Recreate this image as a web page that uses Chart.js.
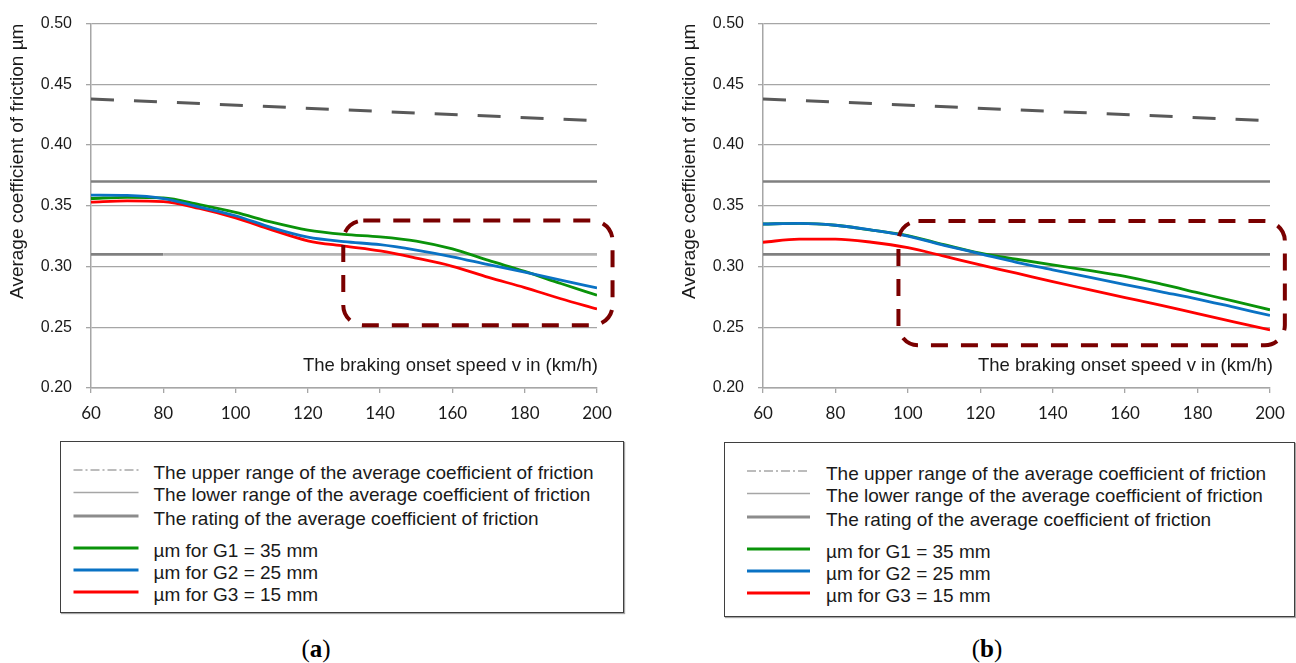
<!DOCTYPE html>
<html>
<head>
<meta charset="utf-8">
<title>Average coefficient of friction vs braking onset speed</title>
<script src="https://cdn.jsdelivr.net/npm/chart.js@4.4.1/dist/chart.umd.min.js"></script>
<style>
  html, body { margin: 0; padding: 0; background: #fff; }
  body { width: 1296px; height: 663px; position: relative; overflow: hidden;
         font-family: "Liberation Sans", Arial, sans-serif; }
  .panel { position: absolute; top: 0; }
  .legend { position: absolute; box-sizing: border-box; border: 1.5px solid #3f3f3f;
            box-shadow: 1px 1px 1px rgba(0,0,0,0.35); background: #fff; }
  .legend svg { position: absolute; left: 0; top: 0; overflow: visible; }
  .legend span { position: absolute; font-size: 19px; line-height: 22px; color: #1a1a1a;
                 white-space: nowrap; transform: translateY(-50%); }
  .caption { position: absolute; top: 635px; width: 80px; text-align: center; line-height: 28px;
             font-family: "Liberation Serif", "DejaVu Serif", serif; font-size: 25px; color: #000; }
</style>
</head>
<body>
<div class="panel" style="left:0"><canvas id="chartA" width="624" height="440"></canvas></div>
<div class="panel" style="left:672px"><canvas id="chartB" width="624" height="440"></canvas></div>
<div id="legendA" class="legend" style="left:60px;top:441px;width:564px;height:172px"></div>
<div id="legendB" class="legend" style="left:724px;top:442px;width:571px;height:175px"></div>
<div class="caption" style="left:276px">(<b>a</b>)</div>
<div class="caption" style="left:947px">(<b>b</b>)</div>

<script>
// ---- data ----------------------------------------------------------------
const speeds = [60, 70, 80, 90, 100, 110, 120, 130, 140, 150, 160, 170, 180, 190, 200];

// panel (a)
const g1A = [0.3560, 0.3570, 0.3565, 0.3510, 0.3445, 0.3365, 0.3300, 0.3265, 0.3245, 0.3210, 0.3145, 0.3050, 0.2960, 0.2860, 0.2764];
const g2A = [0.3588, 0.3585, 0.3560, 0.3490, 0.3418, 0.3320, 0.3242, 0.3205, 0.3180, 0.3135, 0.3080, 0.3015, 0.2953, 0.2889, 0.2824];
const g3A = [0.3530, 0.3540, 0.3535, 0.3478, 0.3400, 0.3302, 0.3212, 0.3168, 0.3128, 0.3069, 0.3002, 0.2910, 0.2827, 0.2735, 0.2651];

// panel (b)
const g1B = [0.3350, 0.3355, 0.3340, 0.3300, 0.3255, 0.3180, 0.3110, 0.3060, 0.3013, 0.2968, 0.2919, 0.2855, 0.2785, 0.2715, 0.2644];
const g2B = [0.3350, 0.3355, 0.3340, 0.3300, 0.3250, 0.3175, 0.3105, 0.3035, 0.2973, 0.2912, 0.2852, 0.2792, 0.2732, 0.2665, 0.2598];
const g3B = [0.3200, 0.3225, 0.3225, 0.3200, 0.3155, 0.3085, 0.3013, 0.2945, 0.2875, 0.2810, 0.2745, 0.2680, 0.2612, 0.2545, 0.2478];

// limits of the average coefficient of friction
const rangeSpeeds  = [60, 200];
const upperRange   = [0.438, 0.420];
const ratingLevel  = [0.37, 0.37];
const lowerSpeedsA = [60, 80, 200];
const lowerLevelA  = [0.31, 0.31, 0.31];
const lowerSpeedsB = [60, 200];
const lowerLevelB  = [0.31, 0.31];

// axis ticks
const xTicks = [60, 80, 100, 120, 140, 160, 180, 200];
const yTicks = [0.20, 0.25, 0.30, 0.35, 0.40, 0.45, 0.50];

// ---- styles --------------------------------------------------------------
const GREEN = '#0a930a';
const BLUE  = '#0a72c4';
const RED   = '#ff0000';
const GRID  = '#a6a6a6';

Chart.defaults.font.family = '"Liberation Sans", Arial, sans-serif';
Chart.defaults.color = '#1a1a1a';

const toPoints = (xs, ys) => xs.map((x, i) => ({ x: x, y: ys[i] }));

// axis caption written inside the plot, above the x axis
const inPlotTitle = {
  id: 'inPlotTitle',
  afterDatasetsDraw(chart, args, o) {
    const { ctx, chartArea } = chart;
    const y = chart.scales.y.getPixelForValue(chart.scales.y.min);
    ctx.save();
    ctx.font = o.font;
    ctx.fillStyle = o.color;
    ctx.textAlign = 'right';
    ctx.textBaseline = 'alphabetic';
    ctx.fillText(o.text, chartArea.right + o.dx, y - o.lift);
    ctx.restore();
  }
};

// dashed rounded frame marking the region of interest
const highlightBox = {
  id: 'highlightBox',
  afterDraw(chart, args, o) {
    const { ctx } = chart;
    const { x, y } = chart.scales;
    const l = x.getPixelForValue(o.xMin), r = x.getPixelForValue(o.xMax);
    const t = y.getPixelForValue(o.yMax), b = y.getPixelForValue(o.yMin);
    ctx.save();
    ctx.strokeStyle = o.color;
    ctx.lineWidth = o.width;
    ctx.setLineDash(o.dash);
    ctx.beginPath();
    ctx.roundRect(l, t, r - l, b - t, o.radius);
    ctx.stroke();
    ctx.restore();
  }
};

function makeChart(id, s) {
  const curve = (label, data, color, order) => ({
    label, data: toPoints(speeds, data), borderColor: color, borderWidth: 2.8,
    pointRadius: 0, cubicInterpolationMode: 'monotone', fill: false, order
  });
  return new Chart(document.getElementById(id), {
    type: 'line',
    data: {
      datasets: [
        curve('µm for G2 = 25 mm', s.g2, BLUE, 1),
        curve('µm for G1 = 35 mm', s.g1, GREEN, 2),
        curve('µm for G3 = 15 mm', s.g3, RED, 3),
        { label: 'The upper range of the average coefficient of friction',
          data: toPoints(rangeSpeeds, upperRange), borderColor: '#595959', borderWidth: 3,
          borderDash: [23, 20], pointRadius: 0, tension: 0, order: 5 },
        { label: 'The rating of the average coefficient of friction',
          data: toPoints(rangeSpeeds, ratingLevel), borderColor: '#808080', borderWidth: 2.6,
          pointRadius: 0, tension: 0, order: 6 },
        { label: 'The lower range of the average coefficient of friction',
          data: toPoints(s.lowerX, s.lowerY), borderColor: '#808080', borderWidth: 2.6,
          pointRadius: 0, tension: 0, order: 7,
          segment: { borderColor: c => s.lowerSplit && c.p0.parsed.x >= s.lowerSplit ? '#b4b4b4' : '#808080' } }
      ]
    },
    options: {
      responsive: false,
      animation: false,
      layout: { padding: { top: 16, right: s.padRight, bottom: 0, left: 0 } },
      plugins: {
        legend: { display: false },
        tooltip: { enabled: false },
        inPlotTitle: { text: 'The braking onset speed v in (km/h)', font: '18.5px "Liberation Sans", Arial, sans-serif',
                       color: '#1a1a1a', dx: s.titleDx, lift: 17 },
        highlightBox: Object.assign({ color: '#7a0000', width: 4, dash: [17, 13], radius: 20 }, s.box)
      },
      scales: {
        x: {
          type: 'linear', min: 60, max: 200,
          afterBuildTicks: sc => { sc.ticks = xTicks.map(v => ({ value: v })); },
          afterFit: sc => { sc.height = 52; },
          grid: { drawOnChartArea: false, drawTicks: true, tickLength: 5, color: GRID, lineWidth: 1.3 },
          border: { color: GRID, width: 1.5 },
          ticks: { font: { family: 'Lato, "Liberation Sans", sans-serif', size: 17 }, color: '#1a1a1a',
                   padding: 10, maxRotation: 0, autoSkip: false }
        },
        y: {
          min: 0.2, max: 0.5,
          afterBuildTicks: sc => { sc.ticks = yTicks.map(v => ({ value: v })); },
          afterFit: sc => { sc.width = 91; },
          grid: { color: GRID, lineWidth: 1.3, tickLength: 5 },
          border: { color: GRID, width: 1.5 },
          ticks: { font: { size: 16 }, color: '#1a1a1a', padding: 14, callback: v => Number(v).toFixed(2) },
          title: { display: true, text: 'Average coefficient of friction µm', align: 'end',
                   font: { size: 19 }, color: '#1a1a1a', padding: { top: 6, bottom: 0 } }
        }
      }
    },
    plugins: [inPlotTitle, highlightBox]
  });
}

makeChart('chartA', {
  g1: g1A, g2: g2A, g3: g3A,
  lowerX: lowerSpeedsA, lowerY: lowerLevelA, lowerSplit: 80,
  padRight: 27, titleDx: 1,
  box: { xMin: 129.8, xMax: 204.3, yMin: 0.2517, yMax: 0.3378 }
});
makeChart('chartB', {
  g1: g1B, g2: g2B, g3: g3B,
  lowerX: lowerSpeedsB, lowerY: lowerLevelB, lowerSplit: null,
  padRight: 26, titleDx: 3,
  box: { xMin: 97.4, xMax: 204.1, yMin: 0.2351, yMax: 0.3374 }
});

// ---- legends -------------------------------------------------------------
const legendEntries = [
  { label: 'The upper range of the average coefficient of friction', stroke: '#a6a6a6', width: 1.5, dash: '9 3 2 3' },
  { label: 'The lower range of the average coefficient of friction', stroke: '#a6a6a6', width: 1.5 },
  { label: 'The rating of the average coefficient of friction', stroke: '#8c8c8c', width: 3 },
  { label: 'µm for G1 = 35 mm', stroke: GREEN, width: 3 },
  { label: 'µm for G2 = 25 mm', stroke: BLUE, width: 3 },
  { label: 'µm for G3 = 15 mm', stroke: RED, width: 3 }
];
const legendRows = [28, 50.5, 74, 106, 128, 150];

function buildLegend(el, x0, x1, textX) {
  const NS = 'http://www.w3.org/2000/svg';
  const svg = document.createElementNS(NS, 'svg');
  svg.setAttribute('width', '1');
  svg.setAttribute('height', '1');
  legendEntries.forEach((e, i) => {
    const y = legendRows[i];
    const ln = document.createElementNS(NS, 'line');
    ln.setAttribute('x1', x0); ln.setAttribute('x2', x1);
    ln.setAttribute('y1', y); ln.setAttribute('y2', y);
    ln.setAttribute('stroke', e.stroke);
    ln.setAttribute('stroke-width', e.width);
    if (e.dash) ln.setAttribute('stroke-dasharray', e.dash);
    svg.appendChild(ln);
    const sp = document.createElement('span');
    sp.textContent = e.label;
    sp.style.left = textX + 'px';
    sp.style.top = (y + 2.5) + 'px';
    el.appendChild(sp);
  });
  el.appendChild(svg);
}
buildLegend(document.getElementById('legendA'), 12.5, 77.5, 92.5);
buildLegend(document.getElementById('legendB'), 22, 85, 101);
</script>
</body>
</html>
